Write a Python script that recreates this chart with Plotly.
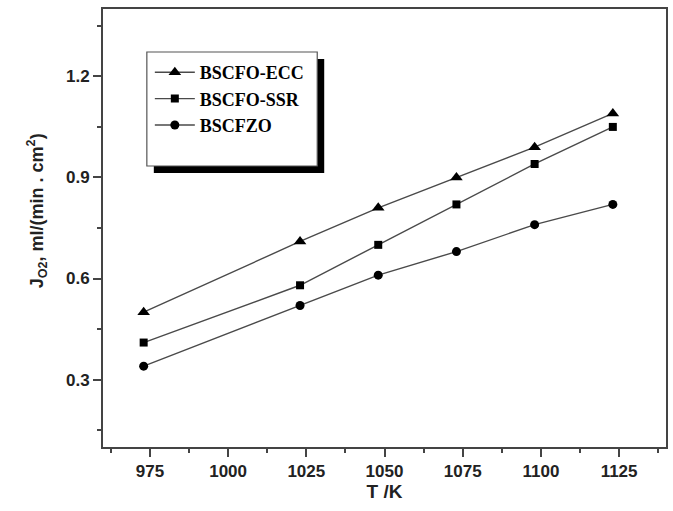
import plotly.graph_objects as go

temperature_K = [973, 1023, 1048, 1073, 1098, 1123]
flux_ecc = [0.50, 0.71, 0.81, 0.90, 0.99, 1.09]
flux_ssr = [0.41, 0.58, 0.70, 0.82, 0.94, 1.05]
flux_bscfzo = [0.34, 0.52, 0.61, 0.68, 0.76, 0.82]
series_names = ["BSCFO-ECC", "BSCFO-SSR", "BSCFZO"]
x_tick_vals = [975, 1000, 1025, 1050, 1075, 1100, 1125]
y_tick_vals = [0.3, 0.6, 0.9, 1.2]

W, H = 673, 511
L, R, T, B = 103, 5, 9, 64
pw, ph = W - L - R, H - T - B

def px(xp):
    return (xp - L) / pw

def py(yp):
    return (H - B - yp) / ph

fig = go.Figure()
symbols = ["triangle-up", "square", "circle"]
sizes = [11, 8, 9]
for name, ys, sym, sz in zip(series_names, [flux_ecc, flux_ssr, flux_bscfzo], symbols, sizes):
    fig.add_trace(go.Scatter(
        x=temperature_K, y=ys, name=name, mode="lines+markers",
        line=dict(color="#4a4a4a", width=1.4),
        marker=dict(symbol=sym, size=sz, color="black"),
    ))

tick_font = dict(family="Arial, Liberation Sans, sans-serif", size=17, color="#222222", weight="bold")
axis_common = dict(
    showline=True, linecolor="#444444", linewidth=2, mirror=True,
    ticks="outside", tickcolor="#444444", tickwidth=1.5, ticklen=8,
    showgrid=False, zeroline=False, tickfont=tick_font,
)

fig.update_xaxes(
    range=[960, 1140], tickmode="array", tickvals=x_tick_vals,
    minor=dict(dtick=12.5, tick0=962.5, ticks="outside", ticklen=4, tickcolor="#444444", tickwidth=1.5, showgrid=False),
    title=dict(text="T /K", font=dict(family="Arial, Liberation Sans, sans-serif", size=19, color="#222222", weight="bold"), standoff=2),
    **axis_common,
)
fig.update_yaxes(
    range=[0.1, 1.4], tickmode="array", tickvals=y_tick_vals, tickformat=".1f",
    minor=dict(dtick=0.15, tick0=0.15, ticks="outside", ticklen=4, tickcolor="#444444", tickwidth=1.5, showgrid=False),
    **axis_common,
)

# y-axis title placed as rotated annotation
fig.add_annotation(
    text="J<sub>O2</sub>, ml/(min . cm<sup>2</sup>)", xref="paper", yref="paper",
    x=px(36), y=py(211), xanchor="center", yanchor="middle", textangle=-90, showarrow=False,
    font=dict(family="Arial, Liberation Sans, sans-serif", size=18, color="#222222", weight="bold"),
)

# legend box with drop shadow
fig.add_shape(type="rect", xref="paper", yref="paper",
              x0=px(154), x1=px(325), y0=py(173), y1=py(59),
              fillcolor="black", line=dict(width=0), layer="above")
fig.add_shape(type="rect", xref="paper", yref="paper",
              x0=px(147), x1=px(318), y0=py(166), y1=py(52),
              fillcolor="white", line=dict(color="#555555", width=1.2), layer="above")

fig.update_layout(
    width=W, height=H,
    margin=dict(l=L, r=R, t=T, b=B),
    paper_bgcolor="white", plot_bgcolor="white",
    showlegend=True,
    legend=dict(
        x=px(150), y=py(54), xanchor="left", yanchor="top",
        bgcolor="rgba(0,0,0,0)", borderwidth=0,
        font=dict(family="Times New Roman, Liberation Serif, serif", size=18, color="black", weight="bold"),
        itemwidth=40, tracegroupgap=0,
    ),
)

fig.write_html("out.html", config={"displayModeBar": False},
               post_script="document.body.style.margin='0';document.body.style.overflow='hidden';")
